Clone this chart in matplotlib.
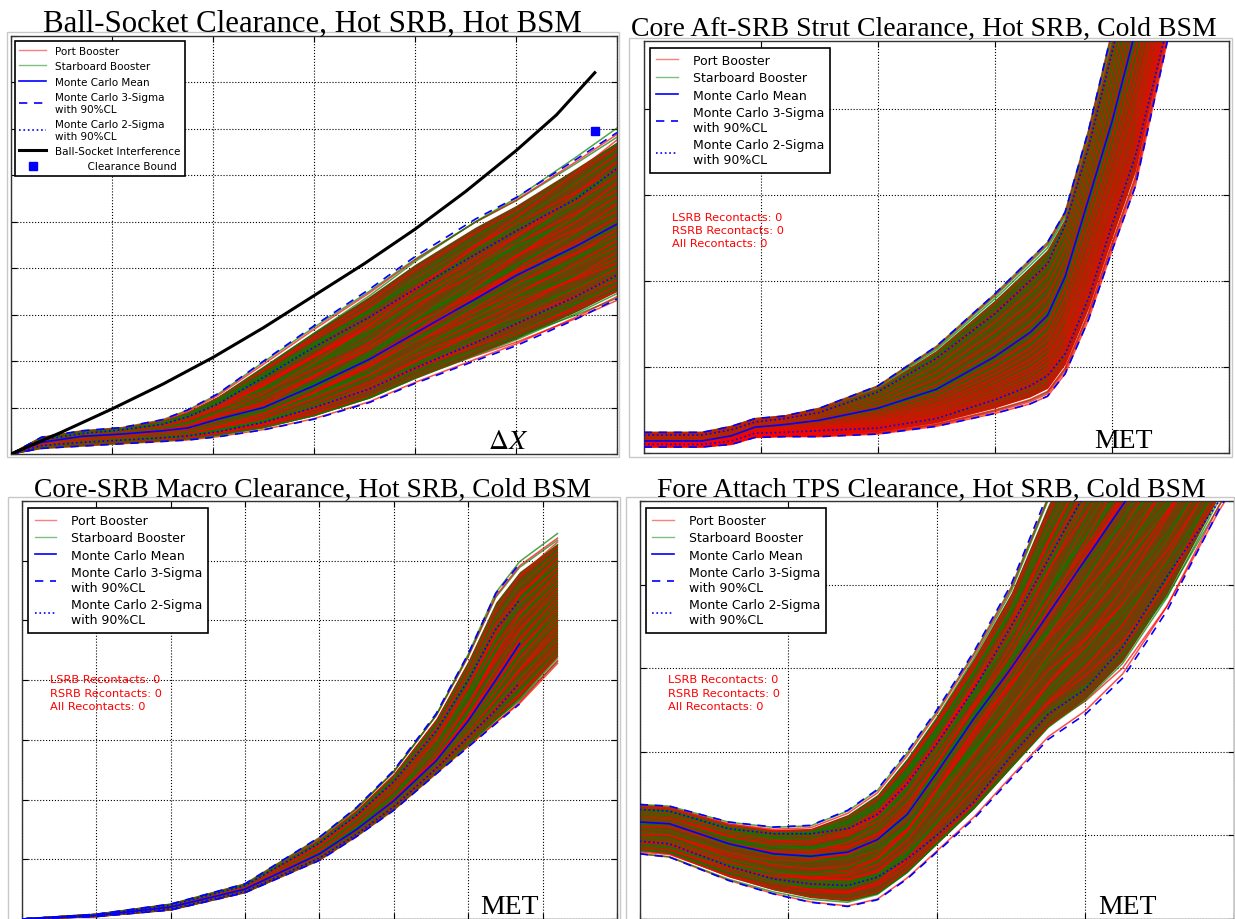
import matplotlib
matplotlib.use('Agg')
import matplotlib.pyplot as plt
from matplotlib.lines import Line2D
from matplotlib.patches import Rectangle
import numpy as np

plt.rcParams['mathtext.fontset'] = 'stix'

W, H = 1235, 920

# ---- panel 1: Ball-Socket clearance (grid units) ----
x1 = [0, 0.3, 0.7, 1.1, 1.5, 1.75, 2.05, 2.5, 3.0, 3.55, 4.0, 4.6, 5.0, 5.6, 6.0]
mean1 = [0, 0.25, 0.38, 0.43, 0.5, 0.56, 0.75, 1.0, 1.47, 2.04, 2.6, 3.34, 3.84, 4.48, 4.95]
up3_1 = [0, 0.36, 0.5, 0.57, 0.74, 0.95, 1.3, 2.0, 2.76, 3.55, 4.25, 5.06, 5.52, 6.35, 6.92]
lo3_1 = [0, 0.12, 0.17, 0.22, 0.27, 0.3, 0.37, 0.52, 0.75, 1.11, 1.52, 2.01, 2.33, 2.91, 3.34]
up2_1 = [0, 0.3, 0.44, 0.52, 0.64, 0.8, 1.08, 1.65, 2.3, 2.95, 3.55, 4.3, 4.8, 5.5, 6.15]
lo2_1 = [0, 0.18, 0.25, 0.3, 0.35, 0.39, 0.48, 0.68, 1.0, 1.4, 1.85, 2.4, 2.8, 3.4, 3.85]
interf_x = [0, 0.5, 1.0, 1.5, 2.0, 2.5, 3.0, 3.5, 4.0, 4.5, 5.0, 5.4, 5.78]
interf_y = [0, 0.47, 0.97, 1.5, 2.08, 2.72, 3.41, 4.1, 4.84, 5.65, 6.53, 7.3, 8.21]
bound_x, bound_y = 5.78, 6.96

# ---- panel 2: Core Aft-SRB strut clearance ----
x2 = [0, 0.5, 0.75, 0.95, 1.2, 1.5, 2.0, 2.5, 3.0, 3.3, 3.45, 3.6, 3.8, 4.0, 4.2, 4.5]
mean2 = [0.14, 0.14, 0.2, 0.3, 0.33, 0.38, 0.52, 0.74, 1.12, 1.4, 1.6, 2.05, 2.95, 3.85, 4.9, 6.4]
up3_2 = [0.24, 0.24, 0.31, 0.4, 0.43, 0.52, 0.78, 1.24, 1.85, 2.25, 2.45, 2.8, 3.75, 4.9, 6.0, 7.5]
lo3_2 = [0.07, 0.07, 0.1, 0.18, 0.19, 0.19, 0.22, 0.31, 0.46, 0.57, 0.66, 0.92, 1.55, 2.35, 3.1, 4.95]
up2_2 = [0.21, 0.21, 0.27, 0.36, 0.4, 0.47, 0.71, 1.1, 1.62, 2.0, 2.2, 2.65, 3.55, 4.65, 5.8, 7.3]
lo2_2 = [0.1, 0.1, 0.14, 0.23, 0.24, 0.26, 0.29, 0.4, 0.62, 0.78, 0.9, 1.15, 1.8, 2.65, 3.45, 5.1]

# ---- panel 3: Core-SRB macro clearance ----
x3 = [0, 1.0, 2.0, 3.0, 4.0, 4.5, 5.0, 5.57, 6.0, 6.37, 6.69, 7.2]
mean3 = [0, 0.06, 0.2, 0.5, 1.09, 1.5, 1.98, 2.65, 3.32, 4.0, 4.61, 5.3]
up3_3 = [0, 0.08, 0.25, 0.59, 1.37, 1.87, 2.49, 3.44, 4.44, 5.45, 5.95, 6.4]
lo3_3 = [0, 0.04, 0.15, 0.44, 0.98, 1.38, 1.82, 2.43, 2.88, 3.27, 3.6, 4.3]
up2_3 = [0, 0.07, 0.23, 0.56, 1.27, 1.74, 2.3, 3.15, 4.0, 4.85, 5.34, 6.0]
lo2_3 = [0, 0.05, 0.17, 0.46, 1.02, 1.42, 1.88, 2.52, 3.05, 3.5, 3.95, 4.6]

# ---- panel 4: Fore attach TPS clearance ----
x4 = [0, 0.2, 0.6, 0.9, 1.15, 1.4, 1.6, 1.8, 2.0, 2.25, 2.5, 2.75, 3.0, 3.25, 3.55, 3.9, 4.0]
mean4 = [1.16, 1.14, 0.9, 0.78, 0.75, 0.8, 0.95, 1.25, 1.75, 2.4, 3.0, 3.65, 4.3, 4.95, 5.7, 6.5, 6.7]
up3_4 = [1.37, 1.35, 1.16, 1.1, 1.12, 1.3, 1.55, 2.0, 2.5, 3.2, 4.0, 5.1, 6.0, 6.8, 7.6, 8.5, 8.8]
lo3_4 = [0.78, 0.74, 0.46, 0.3, 0.2, 0.15, 0.23, 0.48, 0.8, 1.2, 1.68, 2.15, 2.45, 2.88, 3.69, 4.9, 5.2]
up2_4 = [1.31, 1.29, 1.08, 1.02, 1.02, 1.08, 1.25, 1.62, 2.1, 2.75, 3.5, 4.3, 5.1, 5.9, 6.8, 7.7, 8.0]
lo2_4 = [0.93, 0.9, 0.63, 0.48, 0.42, 0.4, 0.5, 0.72, 1.0, 1.4, 1.95, 2.45, 2.75, 3.25, 4.1, 5.0, 5.3]

# position of each drawn run inside the 3-sigma band (-1 lower, +1 upper), at start and end
port_end = [-1.02, -0.97, -0.9, -0.82, -0.75, -0.68, -0.6, -0.52, -0.45, -0.38, -0.3, -0.22,
            -0.15, -0.08, 0.0, 0.07, 0.14, 0.22, 0.3, 0.37, 0.45, 0.52, 0.6, 0.68, 0.76, 0.84,
            0.92, 0.98]
port_start = [-0.6, -1.0, -0.3, -0.9, 0.2, -0.75, -0.45, 0.5, -0.2, -0.95, 0.1, -0.55, 0.7,
              -0.35, 0.35, -0.1, 0.85, -0.65, 0.0, 0.6, -0.85, 0.45, 0.95, -0.4, 0.25, 0.8,
              -0.15, 0.9]
star_end = [-0.99, -0.93, -0.86, -0.78, -0.71, -0.63, -0.56, -0.48, -0.41, -0.34, -0.26, -0.19,
            -0.11, -0.04, 0.04, 0.11, 0.18, 0.26, 0.33, 0.41, 0.49, 0.56, 0.64, 0.72, 0.8, 0.88,
            0.95, 1.05]
star_start = [-0.3, -0.85, 0.4, -1.0, -0.5, 0.15, -0.7, 0.6, -0.2, 0.9, -0.45, 0.05, -0.9, 0.75,
              -0.6, 0.3, -0.1, 0.95, 0.5, -0.35, 0.2, 0.85, -0.8, 0.65, -0.05, 0.45, 1.0, 0.7]
port_p2 = [-1.0, -0.97, -0.94, -0.9, -0.86, -0.82, -0.78, -0.74, -0.7, -0.65, -0.6, -0.55,
           -0.5, -0.44, -0.38, -0.3, -0.22, -0.12, 0.0, 0.1, 0.25, 0.4, 0.55, 0.7, 0.85, 0.98]
star_p2 = [-0.95, -0.8, -0.6, -0.45, -0.3, -0.18, -0.06, 0.05, 0.15, 0.25, 0.34, 0.42, 0.5,
           0.57, 0.64, 0.7, 0.76, 0.82, 0.87, 0.92, 0.96, 1.0]

titles = ['Ball-Socket Clearance, Hot SRB, Hot BSM',
          'Core Aft-SRB Strut Clearance, Hot SRB, Cold BSM',
          'Core-SRB Macro Clearance, Hot SRB, Cold BSM',
          'Fore Attach TPS Clearance, Hot SRB, Cold BSM']
corner_labels = [r'$\Delta X$', 'MET', 'MET', 'MET']
recontacts = 'LSRB Recontacts: 0\nRSRB Recontacts: 0\nAll Recontacts: 0'

RED, GREEN, BLUE = '#ff0000', '#008000', '#0000ff'
MASS = '#733d06'

fig = plt.figure(figsize=(W / 100, H / 100), dpi=100)


def px_axes(l, t, r, b):
    return fig.add_axes([l / W, 1 - b / H, (r - l) / W, (b - t) / H])


def run(x, mean, up, lo, f0, f1):
    x, mean, up, lo = np.array(x), np.array(mean), np.array(up), np.array(lo)
    f = f0 + (f1 - f0) * x / x[-1]
    return np.where(f >= 0, mean + f * (up - mean), mean + f * (mean - lo))


def draw_bundle(ax, x, mean, up3, lo3, up2, lo2, ps, pe, ss, se, n_env=None):
    ax.fill_between(x, run(x, mean, up3, lo3, -0.9, -0.9), run(x, mean, up3, lo3, 0.9, 0.9),
                    color=MASS, lw=0, zorder=1)
    for i in range(max(len(pe), len(se))):
        if i < len(pe):
            ax.plot(x, run(x, mean, up3, lo3, ps[i], pe[i]), color=RED, lw=1.1, alpha=0.7, zorder=2)
        if i < len(se):
            ax.plot(x, run(x, mean, up3, lo3, ss[i], se[i]), color=GREEN, lw=1.1, alpha=0.7, zorder=2)
    k = n_env or len(x)
    ax.plot(x[:k], mean[:k], color=BLUE, lw=1.2, zorder=4)
    ax.plot(x[:k], up3[:k], color=BLUE, lw=1.2, dashes=(5, 4), zorder=4)
    ax.plot(x[:k], lo3[:k], color=BLUE, lw=1.2, dashes=(5, 4), zorder=4)
    ax.plot(x[:k], up2[:k], color=BLUE, lw=1.2, ls=':', zorder=4)
    ax.plot(x[:k], lo2[:k], color=BLUE, lw=1.2, ls=':', zorder=4)


def style(ax, xmax, ymax, xt, yt):
    ax.set_xlim(0, xmax)
    ax.set_ylim(0, ymax)
    ax.set_xticks(xt)
    ax.set_yticks(yt)
    ax.grid(True, color='black', ls=':', lw=0.8)
    ax.set_axisbelow(True)
    ax.tick_params(direction='in', length=4, top=True, right=True,
                   labelleft=False, labelbottom=False)
    for s in ax.spines.values():
        s.set_color('#333333')
        s.set_linewidth(1.0)


base_handles = [Line2D([], [], color=RED, lw=1, alpha=0.5),
                Line2D([], [], color=GREEN, lw=1, alpha=0.5),
                Line2D([], [], color=BLUE, lw=1.2),
                Line2D([], [], color=BLUE, lw=1.2, dashes=(5, 4)),
                Line2D([], [], color=BLUE, lw=1.2, ls=':')]
base_labels = ['Port Booster', 'Starboard Booster', 'Monte Carlo Mean',
               'Monte Carlo 3-Sigma\nwith 90%CL', 'Monte Carlo 2-Sigma\nwith 90%CL']

# outer light frames around each panel
for (l, t, r, b) in [(7, 33, 619, 458), (629, 39, 1232, 458), (8, 498, 620, 921), (626, 498, 1234, 921)]:
    fig.patches.append(Rectangle((l / W, 1 - b / H), (r - l) / W, (b - t) / H,
                                 transform=fig.transFigure, fill=False,
                                 edgecolor='#c8c8c8', lw=1.0))

# ---- panel 1 ----
ax1 = px_axes(11, 37, 617, 455)
draw_bundle(ax1, x1, mean1, up3_1, lo3_1, up2_1, lo2_1, port_start, port_end, star_start, star_end)
ax1.plot(interf_x, interf_y, color='black', lw=2.2, zorder=5)
ax1.plot([bound_x], [bound_y], 's', color=BLUE, ms=6, zorder=6)
style(ax1, 6, 9, range(7), range(10))
h1 = base_handles + [Line2D([], [], color='black', lw=2.2),
                     Line2D([], [], color=BLUE, ls='none', marker='s', ms=6)]
l1 = base_labels + ['Ball-Socket Interference', '          Clearance Bound']
lg = ax1.legend(h1, l1, loc='upper left', bbox_to_anchor=(0.006, 0.988), borderaxespad=0,
                fontsize=7.5, labelspacing=0.52, handlelength=2.6, handletextpad=0.8,
                fancybox=False, framealpha=1, edgecolor='black', borderpad=0.45)
lg.get_frame().set_linewidth(1.2)
lg.set_zorder(10)

# ---- panel 2 ----
ax2 = px_axes(643.6, 42, 1229, 454)
draw_bundle(ax2, x2, mean2, up3_2, lo3_2, up2_2, lo2_2, port_p2, port_p2, star_p2, star_p2)
style(ax2, 5, 4.79, range(6), range(5))

# ---- panel 3 ----
ax3 = px_axes(21.8, 502, 617, 920)
draw_bundle(ax3, x3, mean3, up3_3, lo3_3, up2_3, lo2_3, port_start, port_end, star_start, star_end,
            n_env=11)
style(ax3, 8, 7, range(9), range(8))

# ---- panel 4 ----
ax4 = px_axes(639.7, 502, 1234, 920)
draw_bundle(ax4, x4, mean4, up3_4, lo3_4, up2_4, lo2_4, port_start, port_end, star_start, star_end)
style(ax4, 4, 5, range(5), range(6))

for ax in (ax2, ax3, ax4):
    lg = ax.legend(base_handles, base_labels, loc='upper left', bbox_to_anchor=(0.011, 0.984),
                   borderaxespad=0, fontsize=9, labelspacing=0.35, handlelength=1.7,
                   handletextpad=1.2, fancybox=False, framealpha=1, edgecolor='black',
                   borderpad=0.5)
    lg.get_frame().set_linewidth(1.2)
    lg.set_zorder(10)
    ax.text(0.048, 0.585, recontacts, transform=ax.transAxes, color=RED, fontsize=8.2,
            va='top', ha='left', linespacing=1.4, zorder=9)

for ax, lab in zip((ax1, ax2, ax3, ax4), corner_labels):
    ax.text(0.82, 0.014, lab, transform=ax.transAxes, ha='center', va='baseline',
            fontsize=20, family='Liberation Serif', zorder=9)

for (cx, by), t, fs in zip([(312, 32), (924, 36), (313, 497), (931, 497)], titles,
                           [22.2, 20, 19.8, 19.9]):
    fig.text(cx / W, 1 - by / H, t, ha='center', va='baseline', fontsize=fs,
             family='Liberation Serif')

fig.savefig('out.png', dpi=100)
